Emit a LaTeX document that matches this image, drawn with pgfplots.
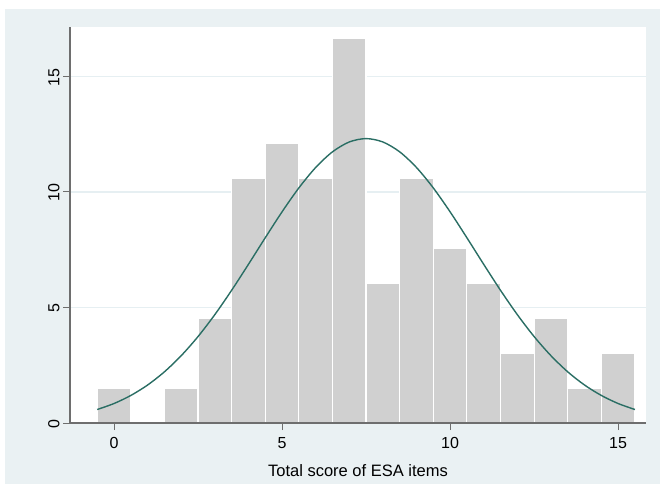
\documentclass[border=0pt]{standalone}
\usepackage{pgfplots}
\pgfplotsset{compat=1.18}
\usepackage{fontspec}
\setmainfont{Liberation Sans}
\definecolor{bgcol}{HTML}{EAF1F3}
\definecolor{gridcol}{HTML}{E6EFF2}
\definecolor{barcol}{HTML}{D0D0D0}
\definecolor{curvecol}{HTML}{2A6E64}
\definecolor{axcol}{HTML}{6E6E6E}
\begin{document}
\begin{tikzpicture}
\fill[white] (-80pt,-70pt) rectangle (600pt,423pt);
\fill[bgcol] (-65pt,-70pt) rectangle (600pt,414pt);
\begin{axis}[
  at={(0pt,0pt)}, anchor=south west,
  scale only axis, width=576pt, height=396pt,
  xmin=-1.31, xmax=15.83, ymin=0, ymax=17.14,
  axis background/.style={fill=white},
  axis x line*=bottom, axis y line*=left,
  axis line style={axcol, line width=1.4pt, -},
  xtick={0,5,10,15}, ytick={0,5,10,15},
  tick align=outside, major tick length=7pt,
  tick style={axcol, line width=1pt},
  ymajorgrids, grid style={gridcol, line width=1.2pt},
  /pgf/number format/assume math mode=true,
  ticklabel style={font=\fontsize{16}{19}\selectfont},
  xticklabel style={yshift=-4pt},
  yticklabel style={rotate=90, anchor=south, xshift=-1pt},
  xlabel={Total score of ESA items},
  xlabel style={font=\fontsize{16.5}{20}\selectfont, yshift=-9pt},
  clip=false,
]
\addplot[ybar, bar width=1, bar shift=0pt, fill=barcol, draw=white, line width=1.2pt] coordinates {
(0,1.515) (2,1.515) (3,4.545) (4,10.606) (5,12.121) (6,10.606) (7,16.667)
(8,6.061) (9,10.606) (10,7.576) (11,6.061) (12,3.030) (13,4.545) (14,1.515) (15,3.030)
};
\addplot[curvecol, line width=1.4pt, smooth, no marks] coordinates {
(-0.5,0.584) (0,0.844) (0.5,1.193) (1,1.645) (1.5,2.216) (2,2.915) (2.5,3.742)
(3,4.692) (3.5,5.745) (4,6.869) (4.5,8.018) (5,9.141) (5.5,10.175) (6,11.059)
(6.5,11.737) (7,12.164) (7.5,12.31) (8,12.164) (8.5,11.737) (9,11.059) (9.5,10.175)
(10,9.141) (10.5,8.018) (11,6.869) (11.5,5.745) (12,4.692) (12.5,3.742) (13,2.915)
(13.5,2.216) (14,1.645) (14.5,1.193) (15,0.844) (15.5,0.584)
};
\draw[axcol, line width=1.4pt] (rel axis cs:0,0) -- (rel axis cs:1,0);
\end{axis}
\pgfresetboundingbox
\path[use as bounding box] (-70pt,-60pt) rectangle (590pt,423pt);
\end{tikzpicture}
\end{document}
